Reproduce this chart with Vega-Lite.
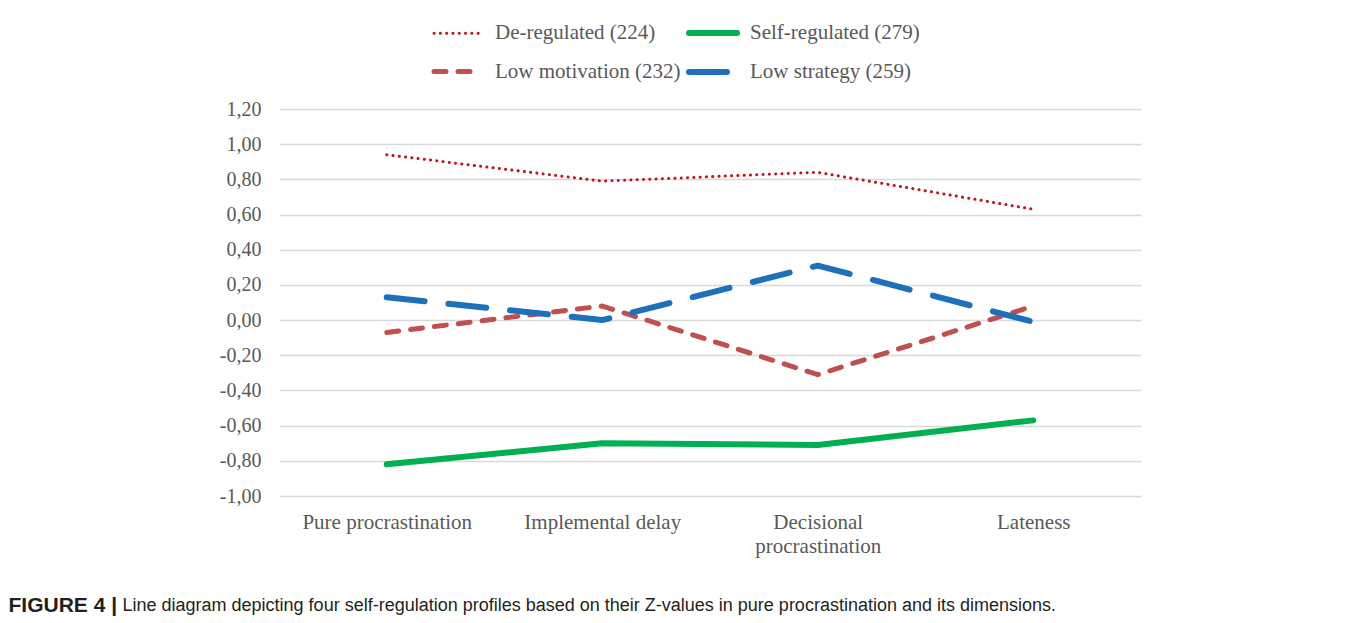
{
  "$schema": "https://vega.github.io/schema/vega-lite/v6.json",
  "width": 862,
  "height": 387,
  "autosize": {"type": "none"},
  "padding": {"left": 279, "top": 109, "right": 216, "bottom": 127},
  "background": "white",
  "data": {
    "values": [
      {"dimension": "Pure procrastination", "profile": "De-regulated (224)", "z": 0.94},
      {"dimension": "Implemental delay", "profile": "De-regulated (224)", "z": 0.79},
      {"dimension": "Decisional procrastination", "profile": "De-regulated (224)", "z": 0.84},
      {"dimension": "Lateness", "profile": "De-regulated (224)", "z": 0.63},
      {"dimension": "Pure procrastination", "profile": "Self-regulated (279)", "z": -0.82},
      {"dimension": "Implemental delay", "profile": "Self-regulated (279)", "z": -0.70},
      {"dimension": "Decisional procrastination", "profile": "Self-regulated (279)", "z": -0.71},
      {"dimension": "Lateness", "profile": "Self-regulated (279)", "z": -0.57},
      {"dimension": "Pure procrastination", "profile": "Low motivation (232)", "z": -0.07},
      {"dimension": "Implemental delay", "profile": "Low motivation (232)", "z": 0.08},
      {"dimension": "Decisional procrastination", "profile": "Low motivation (232)", "z": -0.31},
      {"dimension": "Lateness", "profile": "Low motivation (232)", "z": 0.08},
      {"dimension": "Pure procrastination", "profile": "Low strategy (259)", "z": 0.13},
      {"dimension": "Implemental delay", "profile": "Low strategy (259)", "z": 0.00},
      {"dimension": "Decisional procrastination", "profile": "Low strategy (259)", "z": 0.31},
      {"dimension": "Lateness", "profile": "Low strategy (259)", "z": -0.01}
    ]
  },
  "mark": {"type": "line", "strokeCap": "round", "strokeJoin": "round"},
  "encoding": {
    "x": {
      "field": "dimension",
      "type": "nominal",
      "sort": ["Pure procrastination", "Implemental delay", "Decisional procrastination", "Lateness"],
      "scale": {"type": "point", "padding": 0.5},
      "axis": {
        "title": "Line diagram depicting four self-regulation profiles based on their Z-values in pure procrastination and its dimensions.",
        "titleX": -157,
        "titleY": 109,
        "titleAnchor": "start",
        "titleAlign": "left",
        "titleBaseline": "middle",
        "titleFont": "Liberation Sans",
        "titleFontSize": 18,
        "titleFontWeight": "normal",
        "titleColor": "#231f20",
        "labelExpr": "datum.label == 'Decisional procrastination' ? ['Decisional', 'procrastination'] : datum.label",
        "labelAngle": 0,
        "labelFont": "Liberation Serif",
        "labelFontSize": 21,
        "labelColor": "#595959",
        "labelPadding": 15,
        "labelLineHeight": 24,
        "labelBaseline": "top",
        "domain": false,
        "ticks": false,
        "grid": false
      }
    },
    "y": {
      "field": "z",
      "type": "quantitative",
      "scale": {"domain": [-1, 1.2], "nice": false, "zero": false},
      "axis": {
        "values": [-1, -0.8, -0.6, -0.4, -0.2, 0, 0.2, 0.4, 0.6, 0.8, 1, 1.2],
        "labelExpr": "(datum.value < -0.0001 ? '-' : '') + replace(format(abs(datum.value), '.2f'), '.', ',')",
        "title": "FIGURE 4 |",
        "titleX": -271,
        "titleY": 496,
        "titleAngle": 0,
        "titleAnchor": "start",
        "titleAlign": "left",
        "titleBaseline": "middle",
        "titleFont": "Liberation Sans",
        "titleFontSize": 21,
        "titleFontWeight": "bold",
        "titleColor": "#231f20",
        "labelFont": "Liberation Serif",
        "labelFontSize": 20,
        "labelColor": "#595959",
        "labelPadding": 18,
        "domain": false,
        "ticks": false,
        "grid": true,
        "gridColor": "#d9d9d9",
        "gridWidth": 1.5
      }
    },
    "color": {
      "field": "profile",
      "type": "nominal",
      "sort": ["De-regulated (224)", "Self-regulated (279)", "Low motivation (232)", "Low strategy (259)"],
      "scale": {
        "domain": ["De-regulated (224)", "Self-regulated (279)", "Low motivation (232)", "Low strategy (259)"],
        "range": ["#c0121f", "#00b050", "#c0504d", "#1f70ba"]
      },
      "legend": {
        "title": null,
        "orient": "none",
        "legendX": 152,
        "legendY": -103,
        "columns": 2,
        "direction": "horizontal",
        "padding": 0,
        "columnPadding": -4,
        "rowPadding": -2,
        "symbolSize": 2304,
        "symbolType": "stroke",
        "labelOffset": 10,
        "labelFont": "Liberation Serif",
        "labelFontSize": 21,
        "labelColor": "#595959",
        "labelLimit": 400,
        "symbolOpacity": 1,
        "encode": {
          "symbols": {
            "update": {
              "strokeWidth": {"scale": "strokeWidth", "field": "value"},
              "strokeDash": {"scale": "strokeDash", "field": "value"},
              "strokeCap": {"value": "round"},
              "opacity": {"value": 1}
            }
          }
        }
      }
    },
    "strokeDash": {
      "field": "profile",
      "type": "nominal",
      "scale": {
        "domain": ["De-regulated (224)", "Self-regulated (279)", "Low motivation (232)", "Low strategy (259)"],
        "range": [[0.1, 6.2], [3000, 1], [12, 12], [38, 24]]
      },
      "legend": null
    },
    "strokeWidth": {
      "field": "profile",
      "type": "nominal",
      "scale": {
        "type": "ordinal",
        "domain": ["De-regulated (224)", "Self-regulated (279)", "Low motivation (232)", "Low strategy (259)"],
        "range": [3, 6, 5, 6]
      },
      "legend": null
    }
  },
  "config": {
    "view": {"stroke": null}
  }
}
